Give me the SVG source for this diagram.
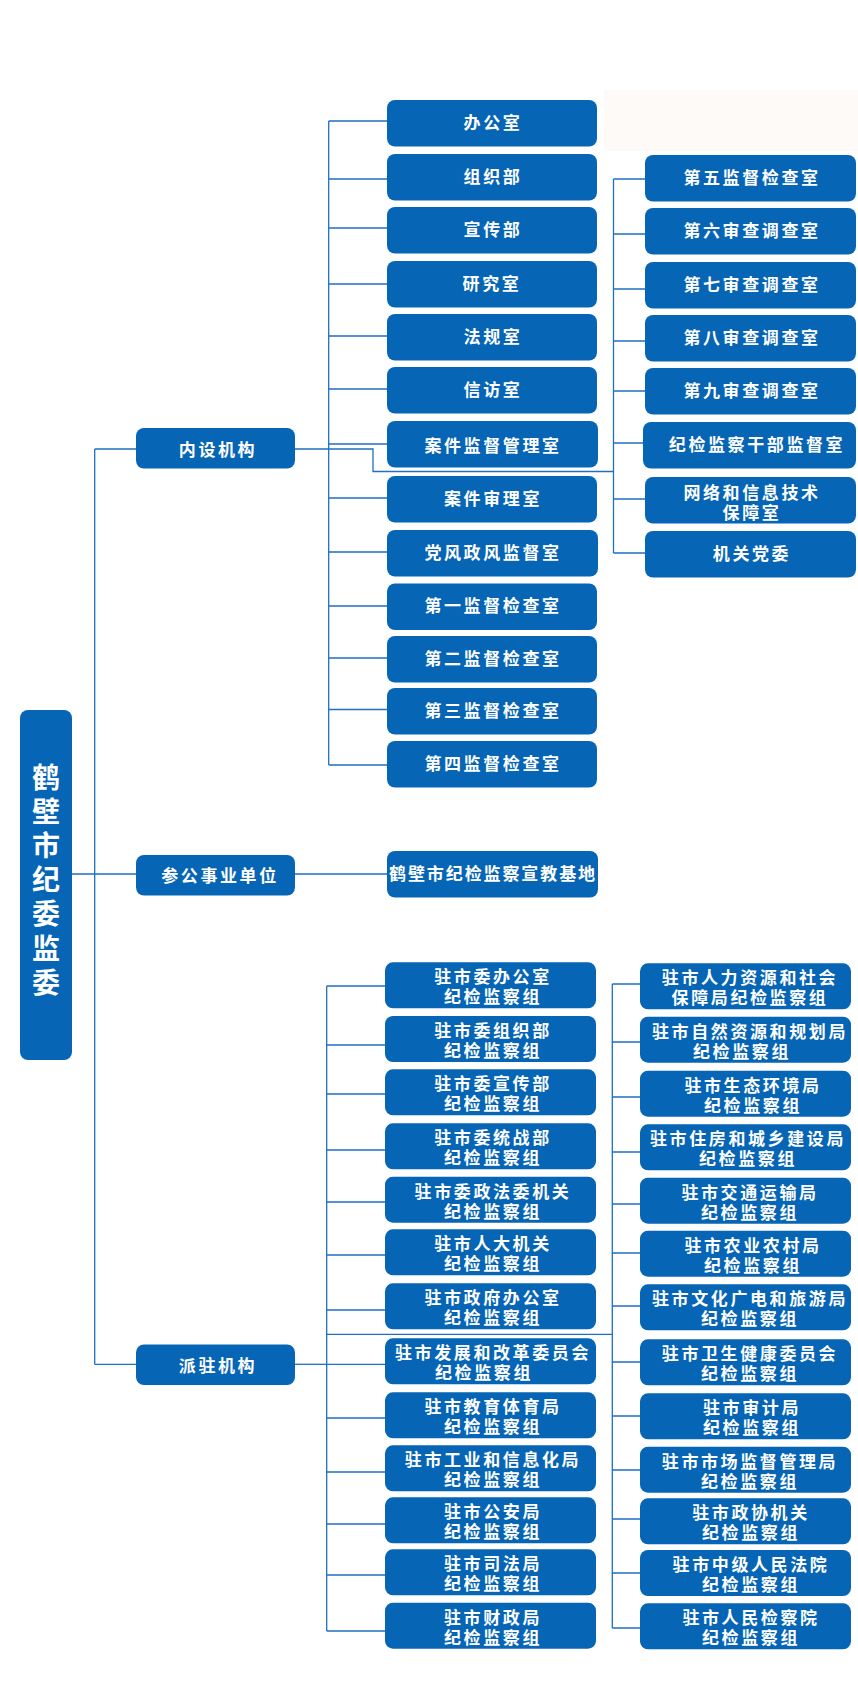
<svg xmlns="http://www.w3.org/2000/svg" width="858" height="1701" viewBox="0 0 858 1701">
<style>
.box{fill:#0665b5}
.ln{fill:none;stroke:#1f6fc2;stroke-width:1.3}
.t{font-family:"Noto Sans CJK SC","Noto Sans CJK TC",sans-serif;font-size:17px;font-weight:bold;fill:#ffffff;text-anchor:middle;letter-spacing:2.6px}
.r{font-family:"Noto Sans CJK SC","Noto Sans CJK TC",sans-serif;font-size:28px;font-weight:bold;fill:#ffffff;writing-mode:vertical-rl;text-anchor:start;letter-spacing:6.2px}
</style>
<rect x="0" y="0" width="858" height="1701" fill="#ffffff"/>
<rect x="604" y="90" width="254" height="61" fill="#fdfaf7"/>
<g id="connectors">
<path class="ln" d="M94.7 449V1364.3M94.7 449H136M72 874H136M94.7 1364.3H136"/>
<path class="ln" d="M295 449H373V471.5H613.5"/>
<path class="ln" d="M328.7 121V765M328.7 121H387M328.7 179H387M328.7 228H387M328.7 284H387M328.7 336H387M328.7 389H387M328.7 444H387M328.7 498H387M328.7 552H387M328.7 606H387M328.7 658H387M328.7 709.5H387M328.7 765H387"/>
<path class="ln" d="M613.5 179V553M613.5 179H645M613.5 234H645M613.5 289H645M613.5 341H645M613.5 391H645M613.5 443H643M613.5 499H645M613.5 553H645"/>
<path class="ln" d="M295 874H387"/>
<path class="ln" d="M295 1364.3H326.7"/>
<path class="ln" d="M326.7 986V1631M326.7 986H385M326.7 1045H385M326.7 1094H385M326.7 1150H385M326.7 1202H385M326.7 1255H385M326.7 1310H385M326.7 1364.3H385M326.7 1418H385M326.7 1472H385M326.7 1524H385M326.7 1575H385M326.7 1631H385"/>
<path class="ln" d="M612.3 984V1628M612.3 984H640M612.3 1042H640M612.3 1097H640M612.3 1152H640M612.3 1204H640M612.3 1253H640M612.3 1306H640M612.3 1362H640M612.3 1416H640M612.3 1470H640M612.3 1519H640M612.3 1573H640M612.3 1628H640"/>
<path class="ln" d="M326.7 1334.3H612.3"/>
</g>
<g id="root"><rect class="box" x="20" y="710" width="52" height="350" rx="8"/>
<text class="r" x="46" y="763">鹤壁市纪委监委</text></g>
<g id="neishe"><rect class="box" x="136" y="428" width="159" height="40.5" rx="8"/><text class="t" x="218" y="455.5">内设机构</text></g>
<g id="cangong"><rect class="box" x="136" y="855" width="159" height="40.5" rx="8"/><text class="t" x="220" y="882">参公事业单位</text></g>
<g id="paizhu"><rect class="box" x="136" y="1344.5" width="159" height="40.5" rx="8"/><text class="t" x="218" y="1371.5">派驻机构</text></g>
<g id="n1"><rect class="box" x="387" y="100" width="210" height="46.5" rx="8"/><text class="t" x="493" y="128.5">办公室</text></g>
<g id="n2"><rect class="box" x="387" y="154" width="210" height="46.5" rx="8"/><text class="t" x="493" y="182.5">组织部</text></g>
<g id="n3"><rect class="box" x="387" y="207" width="210" height="46.5" rx="8"/><text class="t" x="493" y="235.5">宣传部</text></g>
<g id="n4"><rect class="box" x="387" y="261" width="210" height="46.5" rx="8"/><text class="t" x="492" y="289.5">研究室</text></g>
<g id="n5"><rect class="box" x="387" y="314" width="210" height="46.5" rx="8"/><text class="t" x="493" y="342.5">法规室</text></g>
<g id="n6"><rect class="box" x="387" y="367" width="210" height="46.5" rx="8"/><text class="t" x="493" y="395.5">信访室</text></g>
<g id="n7"><rect class="box" x="387" y="421" width="211" height="46.5" rx="8"/><text class="t" x="493" y="452">案件监督管理室</text></g>
<g id="n8"><rect class="box" x="387" y="476" width="210" height="46.5" rx="8"/><text class="t" x="493" y="504.5">案件审理室</text></g>
<g id="n9"><rect class="box" x="387" y="530" width="211" height="46.5" rx="8"/><text class="t" x="493" y="558.5">党风政风监督室</text></g>
<g id="n10"><rect class="box" x="387" y="583.5" width="210" height="46.5" rx="8"/><text class="t" x="493" y="612">第一监督检查室</text></g>
<g id="n11"><rect class="box" x="387" y="636" width="210" height="46.5" rx="8"/><text class="t" x="493" y="664.5">第二监督检查室</text></g>
<g id="n12"><rect class="box" x="387" y="688" width="210" height="46.5" rx="8"/><text class="t" x="493" y="716.5">第三监督检查室</text></g>
<g id="n13"><rect class="box" x="387" y="741" width="210" height="46.5" rx="8"/><text class="t" x="493" y="769.5">第四监督检查室</text></g>
<g id="m1"><rect class="box" x="645" y="155" width="211" height="46.5" rx="8"/><text class="t" x="752" y="183.5">第五监督检查室</text></g>
<g id="m2"><rect class="box" x="645" y="208" width="211" height="46.5" rx="8"/><text class="t" x="752" y="236.5">第六审查调查室</text></g>
<g id="m3"><rect class="box" x="645" y="262" width="211" height="46.5" rx="8"/><text class="t" x="752" y="290.5">第七审查调查室</text></g>
<g id="m4"><rect class="box" x="645" y="315" width="211" height="46.5" rx="8"/><text class="t" x="752" y="343.5">第八审查调查室</text></g>
<g id="m5"><rect class="box" x="645" y="368" width="211" height="46.5" rx="8"/><text class="t" x="752" y="396.5">第九审查调查室</text></g>
<g id="m6"><rect class="box" x="643" y="422" width="213" height="46.5" rx="8"/><text class="t" x="757" y="450.5">纪检监察干部监督室</text></g>
<g id="m7"><rect class="box" x="645" y="477" width="211" height="46.5" rx="8"/><text class="t" x="752" y="499">网络和信息技术<tspan x="752" dy="20">保障室</tspan></text></g>
<g id="m8"><rect class="box" x="645" y="531" width="211" height="46.5" rx="8"/><text class="t" x="752" y="559.5">机关党委</text></g>
<g id="xj"><rect class="box" x="387" y="851" width="211" height="46.5" rx="8"/><text class="t" x="493" y="880" style="letter-spacing:1.9px">鹤壁市纪检监察宣教基地</text></g>
<g id="a1"><rect class="box" x="385" y="962.3" width="211" height="46" rx="8"/><text class="t" x="493" y="983.2">驻市委办公室<tspan x="493" dy="20">纪检监察组</tspan></text></g>
<g id="a2"><rect class="box" x="385" y="1016" width="211" height="46" rx="8"/><text class="t" x="493" y="1036.9">驻市委组织部<tspan x="493" dy="20">纪检监察组</tspan></text></g>
<g id="a3"><rect class="box" x="385" y="1069.3" width="211" height="46" rx="8"/><text class="t" x="493" y="1090.2">驻市委宣传部<tspan x="493" dy="20">纪检监察组</tspan></text></g>
<g id="a4"><rect class="box" x="385" y="1123.3" width="211" height="46" rx="8"/><text class="t" x="493" y="1144.2">驻市委统战部<tspan x="493" dy="20">纪检监察组</tspan></text></g>
<g id="a5"><rect class="box" x="385" y="1176.7" width="211" height="46" rx="8"/><text class="t" x="493" y="1197.6">驻市委政法委机关<tspan x="493" dy="20">纪检监察组</tspan></text></g>
<g id="a6"><rect class="box" x="385" y="1229.3" width="211" height="46" rx="8"/><text class="t" x="493" y="1250.2">驻市人大机关<tspan x="493" dy="20">纪检监察组</tspan></text></g>
<g id="a7"><rect class="box" x="385" y="1283.3" width="211" height="46" rx="8"/><text class="t" x="493" y="1304.2">驻市政府办公室<tspan x="493" dy="20">纪检监察组</tspan></text></g>
<g id="a8"><rect class="box" x="385" y="1338.3" width="211" height="46" rx="8"/><text class="t" x="493" y="1359.2">驻市发展和改革委员会<tspan x="484" dy="20">纪检监察组</tspan></text></g>
<g id="a9"><rect class="box" x="385" y="1392.3" width="211" height="46" rx="8"/><text class="t" x="493" y="1413.2">驻市教育体育局<tspan x="493" dy="20">纪检监察组</tspan></text></g>
<g id="a10"><rect class="box" x="385" y="1445.3" width="211" height="46" rx="8"/><text class="t" x="493" y="1466.2">驻市工业和信息化局<tspan x="493" dy="20">纪检监察组</tspan></text></g>
<g id="a11"><rect class="box" x="385" y="1497.3" width="211" height="46" rx="8"/><text class="t" x="493" y="1518.2">驻市公安局<tspan x="493" dy="20">纪检监察组</tspan></text></g>
<g id="a12"><rect class="box" x="385" y="1549.3" width="211" height="46" rx="8"/><text class="t" x="493" y="1570.2">驻市司法局<tspan x="493" dy="20">纪检监察组</tspan></text></g>
<g id="a13"><rect class="box" x="385" y="1602.7" width="211" height="46" rx="8"/><text class="t" x="493" y="1623.6">驻市财政局<tspan x="493" dy="20">纪检监察组</tspan></text></g>
<g id="b1"><rect class="box" x="640" y="963.3" width="211" height="46" rx="8"/><text class="t" x="750" y="984.2">驻市人力资源和社会<tspan x="750" dy="20">保障局纪检监察组</tspan></text></g>
<g id="b2"><rect class="box" x="640" y="1016.7" width="211" height="46" rx="8"/><text class="t" x="750" y="1037.6">驻市自然资源和规划局<tspan x="742" dy="20">纪检监察组</tspan></text></g>
<g id="b3"><rect class="box" x="640" y="1070.7" width="211" height="46" rx="8"/><text class="t" x="753" y="1091.6">驻市生态环境局<tspan x="753" dy="20">纪检监察组</tspan></text></g>
<g id="b4"><rect class="box" x="640" y="1124.3" width="211" height="46" rx="8"/><text class="t" x="748" y="1145.2">驻市住房和城乡建设局<tspan x="748" dy="20">纪检监察组</tspan></text></g>
<g id="b5"><rect class="box" x="640" y="1177.7" width="211" height="46" rx="8"/><text class="t" x="750" y="1198.6">驻市交通运输局<tspan x="750" dy="20">纪检监察组</tspan></text></g>
<g id="b6"><rect class="box" x="640" y="1230.7" width="211" height="46" rx="8"/><text class="t" x="753" y="1251.6">驻市农业农村局<tspan x="753" dy="20">纪检监察组</tspan></text></g>
<g id="b7"><rect class="box" x="640" y="1284.3" width="211" height="46" rx="8"/><text class="t" x="750" y="1305.2">驻市文化广电和旅游局<tspan x="750" dy="20">纪检监察组</tspan></text></g>
<g id="b8"><rect class="box" x="640" y="1339.3" width="211" height="46" rx="8"/><text class="t" x="750" y="1360.2">驻市卫生健康委员会<tspan x="750" dy="20">纪检监察组</tspan></text></g>
<g id="b9"><rect class="box" x="640" y="1393.3" width="211" height="46" rx="8"/><text class="t" x="752" y="1414.2">驻市审计局<tspan x="752" dy="20">纪检监察组</tspan></text></g>
<g id="b10"><rect class="box" x="640" y="1446.7" width="211" height="46" rx="8"/><text class="t" x="750" y="1467.6">驻市市场监督管理局<tspan x="750" dy="20">纪检监察组</tspan></text></g>
<g id="b11"><rect class="box" x="640" y="1498.3" width="211" height="46" rx="8"/><text class="t" x="751" y="1519.2">驻市政协机关<tspan x="751" dy="20">纪检监察组</tspan></text></g>
<g id="b12"><rect class="box" x="640" y="1550" width="211" height="46" rx="8"/><text class="t" x="751" y="1570.9">驻市中级人民法院<tspan x="751" dy="20">纪检监察组</tspan></text></g>
<g id="b13"><rect class="box" x="640" y="1603.3" width="211" height="46" rx="8"/><text class="t" x="751" y="1624.2">驻市人民检察院<tspan x="751" dy="20">纪检监察组</tspan></text></g>
</svg>
